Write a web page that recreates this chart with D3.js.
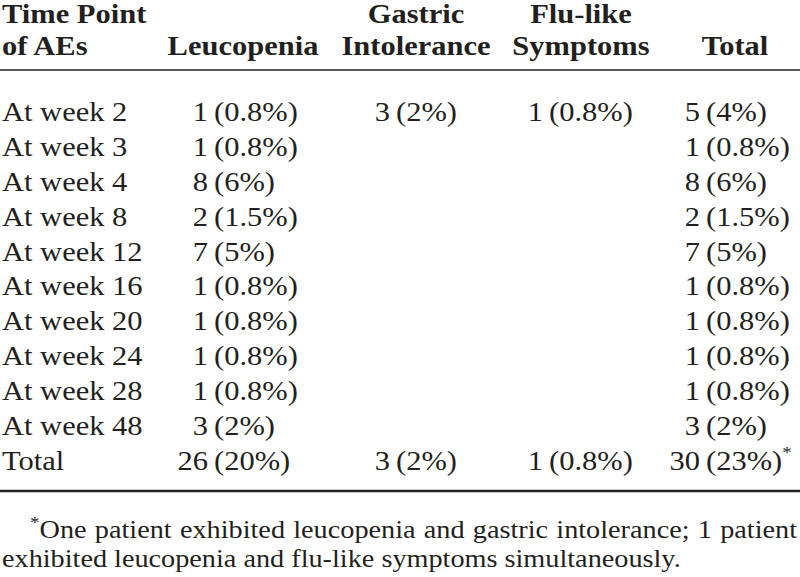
<!DOCTYPE html>
<html>
<head>
<meta charset="utf-8">
<script src="https://cdn.jsdelivr.net/npm/d3@7"></script>
<style>
  body { margin: 0; background: #fff; }
</style>
</head>
<body>
<div id="table"></div>
<script>
const width = 800;
const height = 577;

// table content
const headerTop = ["Time Point", "", "Gastric", "Flu-like", ""];
const headerBottom = ["of AEs", "Leucopenia", "Intolerance", "Symptoms", "Total"];
const timePoints = ["At week 2", "At week 3", "At week 4", "At week 8", "At week 12",
  "At week 16", "At week 20", "At week 24", "At week 28", "At week 48", "Total"];

const leucCount = [1, 1, 8, 2, 7, 1, 1, 1, 1, 3, 26];
const leucPct = ["0.8%", "0.8%", "6%", "1.5%", "5%", "0.8%", "0.8%", "0.8%", "0.8%", "2%", "20%"];
const gastricCount = [3, null, null, null, null, null, null, null, null, null, 3];
const gastricPct = ["2%", null, null, null, null, null, null, null, null, null, "2%"];
const fluCount = [1, null, null, null, null, null, null, null, null, null, 1];
const fluPct = ["0.8%", null, null, null, null, null, null, null, null, null, "0.8%"];
const totalCount = [5, 1, 8, 2, 7, 1, 1, 1, 1, 3, 30];
const totalPct = ["4%", "0.8%", "6%", "1.5%", "5%", "0.8%", "0.8%", "0.8%", "0.8%", "2%", "23%"];

const footnote = [
  "One patient exhibited leucopenia and gastric intolerance; 1 patient",
  "exhibited leucopenia and flu-like symptoms simultaneously."
];

const valueCols = [
  { key: "leuc", count: leucCount, pct: leucPct },
  { key: "gastric", count: gastricCount, pct: gastricPct },
  { key: "flu", count: fluCount, pct: fluPct },
  { key: "total", count: totalCount, pct: totalPct },
];

const fontSize = 27;
const noteSize = 25;
const sx = 1.13; // the whole picture is stretched sideways

// x where the "(" of each value column starts, and header centres
const parenX = d3.scaleOrdinal().domain(valueCols.map(d => d.key)).range([214, 396, 549, 706]);
const headX = d3.scaleOrdinal().domain(d3.range(5)).range([2, 243, 416, 581, 735]);
const y = d3.scalePoint().domain(timePoints).range([121, 470]);

const svg = d3.select("#table")
  .append("svg")
  .attr("width", width)
  .attr("height", height)
  .style("display", "block");

svg.append("rect").attr("width", width).attr("height", height).attr("fill", "#fff");

const font = "'Liberation Serif', Tinos, 'Times New Roman', Times";

const g = svg.append("g")
  .attr("transform", `scale(${sx},1)`)
  .attr("font-family", font)
  .attr("font-size", fontSize)
  .attr("fill", "#231f20");

// header
[[headerTop, 23], [headerBottom, 55]].forEach(([labels, by]) => {
  g.selectAll(null)
    .data(labels)
    .enter()
    .append("text")
    .attr("x", (d, i) => headX(i) / sx)
    .attr("y", by)
    .attr("text-anchor", (d, i) => (i === 0 ? "start" : "middle"))
    .attr("font-weight", "bold")
    .text(d => d);
});

svg.append("line")
  .attr("x1", 0).attr("x2", width)
  .attr("y1", 70).attr("y2", 70)
  .attr("stroke", "#231f20").attr("stroke-width", 1.5);

// row labels
g.selectAll(null)
  .data(timePoints)
  .enter()
  .append("text")
  .attr("x", 2 / sx)
  .attr("y", d => y(d))
  .text(d => d);

// value cells: count before the gap, percentage from the paren
valueCols.forEach(col => {
  const cells = timePoints
    .map((tp, i) => ({ tp, count: col.count[i], pct: col.pct[i] }))
    .filter(d => d.count != null);

  g.selectAll(null)
    .data(cells)
    .enter()
    .append("text")
    .attr("x", (parenX(col.key) - 6) / sx)
    .attr("y", d => y(d.tp))
    .attr("text-anchor", "end")
    .text(d => d.count);

  const pctText = g.selectAll(null)
    .data(cells)
    .enter()
    .append("text")
    .attr("x", parenX(col.key) / sx)
    .attr("y", d => y(d.tp))
    .text(d => "(" + d.pct + ")");

  if (col.key === "total") {
    pctText.filter(d => d.tp === "Total")
      .append("tspan")
      .attr("dy", -12)
      .attr("font-size", 17)
      .text("*");
  }
});

svg.append("line")
  .attr("x1", 0).attr("x2", width)
  .attr("y1", 491).attr("y2", 491)
  .attr("stroke", "#231f20").attr("stroke-width", 2.5);

// footnote, first line justified to the right edge
const note = svg.append("g")
  .attr("transform", `scale(${sx},1)`)
  .attr("font-family", font)
  .attr("font-size", noteSize)
  .attr("fill", "#231f20");

const noteLeft = 30;
const noteRight = 797;
const fn = note.append("text")
  .attr("x", noteLeft / sx)
  .attr("y", 538);
fn.append("tspan").attr("dy", -10).attr("font-size", 17).text("*");
const line1 = fn.append("tspan").attr("dy", 10).text(footnote[0]);

const natural = fn.node().getComputedTextLength();
const gaps = footnote[0].split(" ").length - 1;
line1.attr("word-spacing", ((noteRight - noteLeft) / sx - natural) / gaps);

note.append("text")
  .attr("x", 2 / sx)
  .attr("y", 567)
  .text(footnote[1]);
</script>
</body>
</html>
